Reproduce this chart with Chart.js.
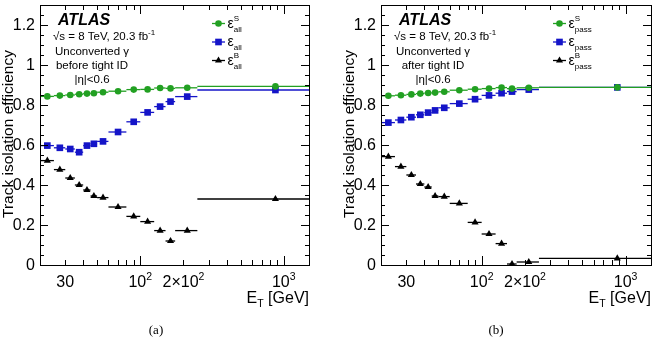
<!DOCTYPE html>
<html>
<head>
<meta charset="utf-8">
<script src="https://cdn.jsdelivr.net/npm/chart.js@4.4.1/dist/chart.umd.min.js"></script>
<style>
  html, body { margin: 0; padding: 0; background: #fff; width: 658px; height: 340px; overflow: hidden; }
  canvas { position: absolute; top: 0; }
  #cA { left: 0; }
  #cB { left: 329px; }
</style>
</head>
<body>
<canvas id="cA" width="329" height="340"></canvas>
<canvas id="cB" width="329" height="340"></canvas>
<script>
// E_T bins (GeV)
const etLow    = [20, 25, 30, 35, 40, 45, 50, 60, 80, 100, 125, 150, 175, 250];
const etHigh   = [25, 30, 35, 40, 45, 50, 60, 80, 100, 125, 150, 175, 250, 1500];
const etCenter = [22.5, 27.5, 32.5, 37.5, 42.5, 47.5, 55, 70, 90, 112.5, 137.5, 162.5, 212.5, 875];

// (a) before tight ID
const sigAll = [0.843, 0.847, 0.850, 0.854, 0.857, 0.859, 0.864, 0.869, 0.877, 0.878, 0.885, 0.883, 0.886, 0.893];
const effAll = [0.597, 0.586, 0.580, 0.564, 0.597, 0.606, 0.618, 0.665, 0.716, 0.763, 0.792, 0.817, 0.842, 0.875];
const bkgAll = [0.522, 0.477, 0.435, 0.400, 0.375, 0.345, 0.337, 0.290, 0.243, 0.217, 0.172, 0.120, 0.172, 0.330];

// (b) after tight ID
const sigPass = [0.846, 0.849, 0.853, 0.857, 0.860, 0.862, 0.866, 0.874, 0.879, 0.882, 0.887, 0.882, 0.886, 0.888];
const effPass = [0.712, 0.725, 0.739, 0.751, 0.762, 0.773, 0.786, 0.807, 0.829, 0.848, 0.859, 0.867, 0.877, 0.888];
const bkgPass = [0.542, 0.492, 0.450, 0.405, 0.390, 0.345, 0.342, 0.308, 0.213, 0.155, 0.107, 0.005, 0.015, 0.033];

// axis ticks
const yTickVals = [0, 0.2, 0.4, 0.6, 0.8, 1, 1.2];
const yTickText = ['0', '0.2', '0.4', '0.6', '0.8', '1', '1.2'];
const xTickVals = [30, 100, 200, 1000];
const xTickBase = ['30', '10', '2\u00d710', '10'];
const xTickSup  = ['', '2', '2', '3'];
const xMajor = [100, 1000];
const xMinor = [30, 40, 50, 60, 70, 80, 90, 200, 300, 400, 500, 600, 700, 800, 900];

const GREEN = '#22a022';
const BLUE = '#1414c8';
const SANS = '"Liberation Sans", Arial, Helvetica, sans-serif';

function setFont(ctx, px, style) {
    ctx.font = (style || '') + ' ' + px + 'px ' + SANS;
}

// Text with super/subscripts: segments {t, s, dy, st} or {sup, sub, s, up, dn}
function drawRich(ctx, segs, x, y, align) {
    let ws = segs.map((g) => {
        if (g.sup !== undefined) {
            setFont(ctx, g.s);
            return Math.max(ctx.measureText(g.sup).width, ctx.measureText(g.sub).width);
        }
        setFont(ctx, g.s, g.st);
        return ctx.measureText(g.t).width;
    });
    let total = ws.reduce((a, b) => a + b, 0);
    let cx = align === 'center' ? x - total / 2 : align === 'right' ? x - total : x;
    ctx.textAlign = 'left';
    ctx.textBaseline = 'alphabetic';
    segs.forEach((g, i) => {
        if (g.sup !== undefined) {
            setFont(ctx, g.s);
            ctx.fillText(g.sup, cx, y + g.up);
            ctx.fillText(g.sub, cx, y + g.dn);
        } else {
            setFont(ctx, g.s, g.st);
            ctx.fillText(g.t, cx, y + (g.dy || 0));
        }
        cx += ws[i];
    });
}

function marker(ctx, style, r, x, y) {
    ctx.beginPath();
    if (style === 'circle') {
        ctx.arc(x, y, r, 0, Math.PI * 2);
    } else if (style === 'rect') {
        let s = Math.SQRT1_2 * r;
        ctx.rect(x - s, y - s, 2 * s, 2 * s);
    } else {
        let rad = 0;
        ctx.moveTo(x + Math.sin(rad) * r, y - Math.cos(rad) * r);
        rad += 2 * Math.PI / 3;
        ctx.lineTo(x + Math.sin(rad) * r, y - Math.cos(rad) * r);
        rad += 2 * Math.PI / 3;
        ctx.lineTo(x + Math.sin(rad) * r, y - Math.cos(rad) * r);
        ctx.closePath();
    }
    ctx.fill();
}

const decor = {
    id: 'decor',
    beforeDatasetDraw(chart, args) {
        // horizontal error bars = bin widths
        const ds = chart.data.datasets[args.index];
        const xs = chart.scales.x, ys = chart.scales.y, a = chart.chartArea, ctx = chart.ctx;
        ctx.save();
        ctx.beginPath();
        ctx.rect(a.left, a.top, a.right - a.left, a.bottom - a.top);
        ctx.clip();
        ctx.strokeStyle = ds.borderColor;
        ctx.lineWidth = 1.3;
        ds.data.forEach((p) => {
            let y = ys.getPixelForValue(p.y);
            ctx.beginPath();
            ctx.moveTo(xs.getPixelForValue(p.lo), y);
            ctx.lineTo(xs.getPixelForValue(p.hi), y);
            ctx.stroke();
        });
        ctx.restore();
    },
    afterDraw(chart, args, o) {
        const ctx = chart.ctx, a = chart.chartArea, xs = chart.scales.x, ys = chart.scales.y;
        ctx.save();
        ctx.strokeStyle = '#000';
        ctx.fillStyle = '#000';
        ctx.lineWidth = 1;
        ctx.strokeRect(a.left + 0.5, a.top + 0.5, a.right - a.left, a.bottom - a.top);

        // y ticks, both sides
        ctx.beginPath();
        for (let i = 0; i <= 26; i++) {
            let y = Math.round(ys.getPixelForValue(i * 0.05)) + 0.5;
            let len = i % 4 === 0 ? 8 : 4;
            ctx.moveTo(a.left, y); ctx.lineTo(a.left + len, y);
            ctx.moveTo(a.right, y); ctx.lineTo(a.right - len, y);
        }
        // x ticks, top and bottom
        xMajor.concat(xMinor).forEach((v) => {
            let x = Math.round(xs.getPixelForValue(v)) + 0.5;
            let len = xMajor.includes(v) ? 9 : 5;
            ctx.moveTo(x, a.bottom); ctx.lineTo(x, a.bottom - len);
            ctx.moveTo(x, a.top); ctx.lineTo(x, a.top + len);
        });
        ctx.stroke();

        // y tick labels
        setFont(ctx, 16);
        ctx.textAlign = 'right';
        ctx.textBaseline = 'middle';
        yTickVals.forEach((v, i) => {
            ctx.fillText(yTickText[i], a.left - 5, ys.getPixelForValue(v) + 1);
        });
        // x tick labels
        xTickVals.forEach((v, i) => {
            let segs = [{ t: xTickBase[i], s: 16 }];
            if (xTickSup[i]) segs.push({ t: xTickSup[i], s: 10.5, dy: -7 });
            drawRich(ctx, segs, xs.getPixelForValue(v), 286.5, 'center');
        });

        // axis titles
        drawRich(ctx, [{ t: 'E', s: 16 }, { t: 'T', s: 10.5, dy: 4 }, { t: ' [GeV]', s: 16 }], a.right, 302.5, 'right');
        ctx.save();
        ctx.translate(a.left - 31, 134);
        ctx.rotate(-Math.PI / 2);
        setFont(ctx, 15.5);
        ctx.textAlign = 'center';
        ctx.textBaseline = 'middle';
        ctx.fillText('Track isolation efficiency', 0, 0);
        ctx.restore();

        // ATLAS label block
        setFont(ctx, 16, 'italic bold');
        ctx.textAlign = 'left';
        ctx.textBaseline = 'alphabetic';
        ctx.fillText('ATLAS', a.left + 18, 24.5);
        drawRich(ctx, [{ t: '\u221As = 8 TeV, 20.3 fb', s: 11.5 }, { t: '-1', s: 8, dy: -5 }], a.left + 13, 39.5, 'left');
        setFont(ctx, 11.5);
        ctx.textAlign = 'center';
        ctx.fillText('Unconverted \u03b3', a.left + 52, 55);
        ctx.fillText(o.idText, a.left + 52, 68.5);
        ctx.fillText('|\u03b7|<0.6', a.left + 52, 83);

        // legend
        const rows = [23.5, 42, 60.5];
        chart.data.datasets.forEach((ds, i) => {
            let y = rows[i];
            ctx.strokeStyle = ds.borderColor;
            ctx.fillStyle = ds.borderColor;
            ctx.lineWidth = 1.3;
            ctx.beginPath();
            ctx.moveTo(a.left + 172, y); ctx.lineTo(a.left + 185, y);
            ctx.stroke();
            marker(ctx, ds.pointStyle, ds.pointRadius, a.left + 178.5, y);
            ctx.fillStyle = '#000';
            drawRich(ctx, [
                { t: '\u03b5', s: 14 },
                { sup: o.sups[i], sub: o.sub, s: 8, up: -6.5, dn: 4 }
            ], a.left + 187.5, y + 4, 'left');
        });

        // panel caption
        ctx.fillStyle = '#000';
        ctx.font = '13px "Liberation Serif", "Times New Roman", serif';
        ctx.textAlign = 'center';
        ctx.textBaseline = 'alphabetic';
        ctx.fillText(o.caption, o.captionX, 334);
        ctx.restore();
    }
};

function points(vals) {
    return vals.map((v, i) => ({ x: etCenter[i], y: v, lo: etLow[i], hi: etHigh[i] }));
}

function makeChart(id, padLeft, padRight, sig, eff, bkg, opts) {
    return new Chart(document.getElementById(id), {
        type: 'scatter',
        data: {
            datasets: [
                { data: points(sig), borderColor: GREEN, backgroundColor: GREEN, pointStyle: 'circle', pointRadius: 3.3, pointBorderWidth: 0 },
                { data: points(eff), borderColor: BLUE, backgroundColor: BLUE, pointStyle: 'rect', pointRadius: 4.7, pointBorderWidth: 0 },
                { data: points(bkg), borderColor: '#000', backgroundColor: '#000', pointStyle: 'triangle', pointRadius: 4.1, pointBorderWidth: 0 }
            ]
        },
        options: {
            responsive: false,
            animation: false,
            events: [],
            layout: { padding: { left: padLeft, right: padRight, top: 5, bottom: 75 } },
            scales: {
                x: { type: 'logarithmic', min: 20, max: 1500, display: false },
                y: { type: 'linear', min: 0, max: 1.3, display: false }
            },
            plugins: {
                legend: { display: false },
                tooltip: { enabled: false },
                decor: opts
            }
        },
        plugins: [decor]
    });
}

makeChart('cA', 40, 20, sigAll, effAll, bkgAll,
    { idText: 'before tight ID', sups: ['S', '', 'B'], sub: 'all', caption: '(a)', captionX: 156 });
makeChart('cB', 52, 7, sigPass, effPass, bkgPass,
    { idText: 'after tight ID', sups: ['S', '', 'B'], sub: 'pass', caption: '(b)', captionX: 167 });
</script>
</body>
</html>
